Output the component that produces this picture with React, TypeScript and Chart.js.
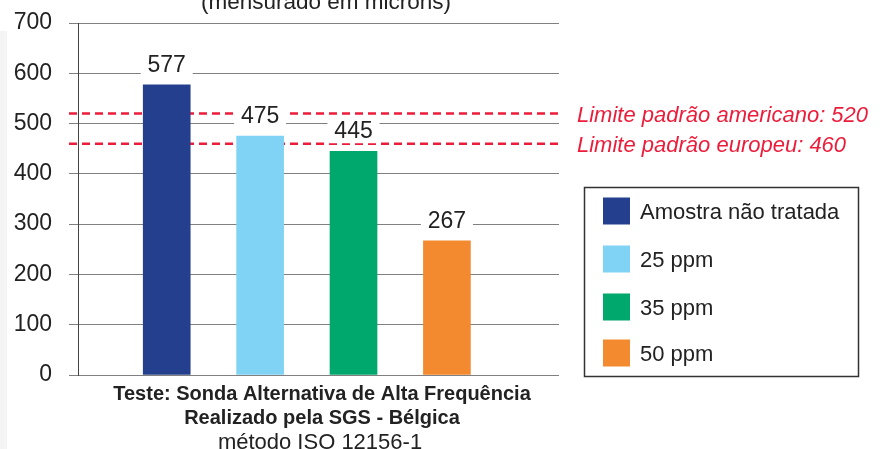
import React, { useEffect, useRef } from 'react';
import { Chart, registerables } from 'chart.js';

Chart.register(...registerables);

const categories = ['Amostra não tratada', '25 ppm', '35 ppm', '50 ppm'];
const values = [577, 475, 445, 267];
const positions = [1, 2, 3, 4];
const colors = ['#243f8d', '#80d3f5', '#00a86d', '#f38a2f'];
const yMin = 0;
const yMax = 700;
const yStep = 100;
const limitLabels = ['Limite padrão americano: 520', 'Limite padrão europeu: 460'];
const limitValues = [520, 460];
const titleText = '(mensurado em microns)';
const footerLines = ['Teste: Sonda Alternativa de Alta Frequência', 'Realizado pela SGS - Bélgica', 'método ISO 12156-1'];

const FONT = '"Liberation Sans", Arial, Helvetica, sans-serif';
const RED = '#ec1d3b';
const TEXT = '#222222';

const bgPlugin = {
  id: 'bg',
  beforeDraw(chart: any) {
    const ctx = chart.ctx;
    ctx.save();
    ctx.fillStyle = '#ffffff';
    ctx.fillRect(0, 0, chart.width, chart.height);
    ctx.fillStyle = '#f4f4f4';
    ctx.fillRect(0, 31, 7, chart.height - 31);
    ctx.restore();
  },
};

const limitsPlugin = {
  id: 'limits',
  beforeDatasetsDraw(chart: any) {
    const ctx = chart.ctx;
    const y = chart.scales.y;
    const area = chart.chartArea;
    ctx.save();
    limitValues.forEach((v, i) => {
      const py = y.getPixelForValue(v);
      ctx.beginPath();
      ctx.setLineDash([8, 5]);
      ctx.lineWidth = 2.5;
      ctx.strokeStyle = RED;
      ctx.moveTo(area.left - 9, py);
      ctx.lineTo(area.right, py);
      ctx.stroke();
      ctx.setLineDash([]);
      ctx.font = `italic 22px ${FONT}`;
      ctx.fillStyle = RED;
      ctx.textAlign = 'left';
      ctx.textBaseline = 'alphabetic';
      ctx.fillText(limitLabels[i], area.right + 18, py + 8);
    });
    ctx.restore();
  },
};

const valueLabelPlugin = {
  id: 'valueLabels',
  afterDatasetsDraw(chart: any) {
    const ctx = chart.ctx;
    ctx.save();
    chart.data.datasets.forEach((ds: any, i: number) => {
      const meta = chart.getDatasetMeta(i);
      const el = meta.data[0];
      if (!el) return;
      const cx = el.x;
      const cy = el.y - 21;
      ctx.fillStyle = '#ffffff';
      ctx.fillRect(cx - 26, cy - 13, 52, 26);
      ctx.font = `23px ${FONT}`;
      ctx.fillStyle = TEXT;
      ctx.textAlign = 'center';
      ctx.textBaseline = 'alphabetic';
      ctx.fillText(String(ds.data[0].y), cx, cy + 8);
    });
    ctx.restore();
  },
};

const decorPlugin = {
  id: 'decor',
  afterDraw(chart: any) {
    const ctx = chart.ctx;
    ctx.save();
    ctx.font = `22.5px ${FONT}`;
    ctx.fillStyle = TEXT;
    ctx.textAlign = 'center';
    ctx.textBaseline = 'alphabetic';
    ctx.fillText(titleText, 326, 9);

    ctx.lineWidth = 1.5;
    ctx.strokeStyle = '#333333';
    ctx.strokeRect(584.5, 187.5, 274, 189);
    const rowY = [211, 259, 307, 353];
    chart.data.datasets.forEach((ds: any, i: number) => {
      const yc = rowY[i];
      ctx.fillStyle = ds.backgroundColor;
      ctx.fillRect(603, yc - 13.5, 27, 27);
      ctx.fillStyle = TEXT;
      ctx.font = `22px ${FONT}`;
      ctx.textAlign = 'left';
      ctx.fillText(ds.label, 640, yc + 8);
    });

    ctx.textAlign = 'center';
    ctx.fillStyle = TEXT;
    ctx.font = `bold 20px ${FONT}`;
    ctx.fillText(footerLines[0], 322, 393 + 7);
    ctx.fillText(footerLines[1], 322, 417 + 7);
    ctx.font = `22px ${FONT}`;
    ctx.fillText(footerLines[2], 320, 441 + 8);
    ctx.restore();
  },
};

export default function App() {
  const ref = useRef<HTMLCanvasElement | null>(null);

  useEffect(() => {
    if (!ref.current) return;
    Chart.defaults.font.family = FONT;
    const chart = new Chart(ref.current, {
      type: 'bar',
      data: {
        datasets: categories.map((c, i) => ({
          label: c,
          data: [{ x: positions[i], y: values[i] }],
          backgroundColor: colors[i],
          borderWidth: 0,
          barThickness: 47,
          grouped: false,
        })),
      },
      options: {
        animation: false,
        responsive: false,
        layout: { padding: { left: 0, right: 323, top: 23, bottom: 74 } },
        plugins: {
          legend: { display: false },
          title: { display: false },
          tooltip: { enabled: false },
        },
        scales: {
          x: {
            type: 'linear',
            min: 0.05,
            max: 5.2,
            offset: false,
            display: false,
          },
          y: {
            min: yMin,
            max: yMax,
            ticks: {
              stepSize: yStep,
              padding: 17,
              color: TEXT,
              font: { size: 23, family: FONT },
            },
            grid: {
              color: '#808080',
              lineWidth: 1,
              tickLength: 9,
              drawTicks: true,
            },
            border: { display: true, color: '#444444', width: 1 },
            afterFit(scale: any) {
              scale.width = 78;
              scale.paddingTop = 10;
              scale.paddingBottom = 10;
            },
          },
        },
      },
      plugins: [bgPlugin, limitsPlugin, valueLabelPlugin, decorPlugin],
    } as any);
    return () => chart.destroy();
  }, []);

  return (
    <canvas
      ref={ref}
      width={882}
      height={449}
      style={{ position: 'absolute', left: 0, top: 0, display: 'block' }}
    />
  );
}
